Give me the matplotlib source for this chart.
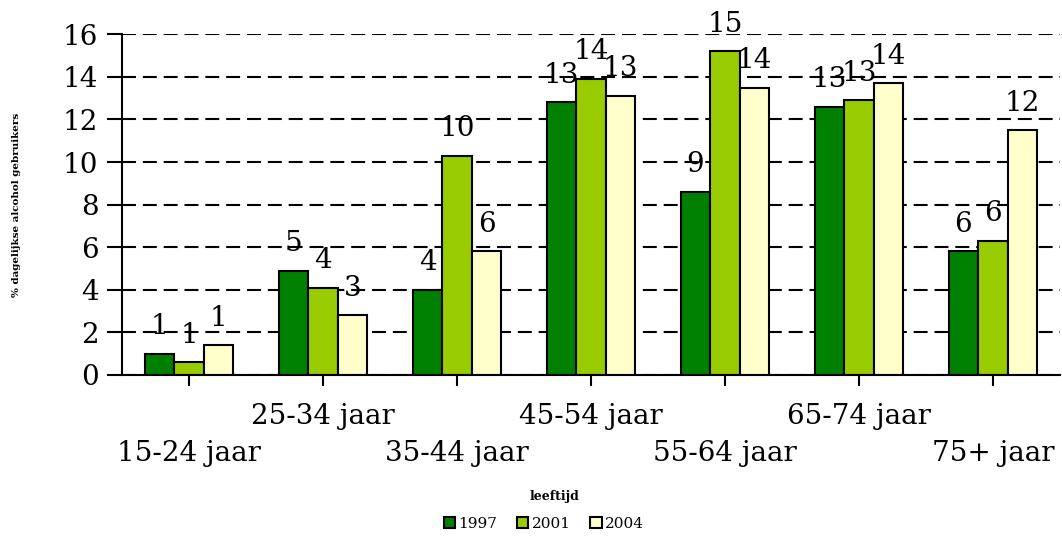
import matplotlib
matplotlib.use('Agg')
import matplotlib.pyplot as plt
import numpy as np

# data
categories = ['15-24 jaar', '25-34 jaar', '35-44 jaar', '45-54 jaar',
              '55-64 jaar', '65-74 jaar', '75+ jaar']
years = ['1997', '2001', '2004']
v1997 = [1.0, 4.9, 4.0, 12.8, 8.6, 12.6, 5.8]
v2001 = [0.6, 4.1, 10.3, 13.9, 15.2, 12.9, 6.3]
v2004 = [1.4, 2.8, 5.8, 13.1, 13.5, 13.7, 11.5]
yticks = [0, 2, 4, 6, 8, 10, 12, 14, 16]

colors = ['#008000', '#99CC00', '#FFFFCC']

plt.rcParams['font.family'] = ['DejaVu Serif']

fig = plt.figure(figsize=(10.62, 5.36), dpi=100)
ax = fig.add_axes([0.1149, 0.3004, 0.8831, 0.6356])
ax.set_clip_on(False)

x = np.arange(len(categories))
w = 0.22
handles = []
for i, (vals, col, yr) in enumerate(zip([v1997, v2001, v2004], colors, years)):
    bars = ax.bar(x + (i - 1) * w, vals, w, color=col, edgecolor='black',
                  linewidth=1.5, label=yr, zorder=3)
    handles.append(bars)
    for xi, v in zip(x + (i - 1) * w, vals):
        ax.annotate('%d' % round(v), (xi, v), xytext=(0, 19.5),
                    textcoords='offset points', ha='center', va='center',
                    fontsize=20, zorder=4)

ax.set_xlim(-0.5, len(categories) - 0.5)
ax.set_ylim(0, 16)
ax.set_yticks(yticks)
ax.tick_params(axis='y', labelsize=20, length=11, width=1.5, pad=6, direction='out')
ax.set_xticks(x)
ax.set_xticklabels(categories, fontsize=20)
ax.tick_params(axis='x', length=8, width=1.5, direction='out')
for k, t in enumerate(ax.xaxis.get_major_ticks()):
    t.set_pad(12 if k % 2 else 39)

ax.grid(axis='y', color='black', linewidth=1.5, linestyle=(0, (6.7, 3.3)), zorder=1)
ax.set_axisbelow(True)
for s in ['top', 'right']:
    ax.spines[s].set_visible(False)
for s in ['left', 'bottom']:
    ax.spines[s].set_linewidth(1.5)
    ax.spines[s].set_zorder(5)

fig.text(0.016, 0.618, '% dagelijkse alcohol gebruikers', rotation=90,
         ha='center', va='center', fontsize=7.5, fontweight='bold')
fig.text(0.5217, 0.073, 'leeftijd', ha='center', va='center',
         fontsize=9, fontweight='bold')

fig.legend(handles=handles, labels=years, loc='center', bbox_to_anchor=(0.512, 0.022),
           ncol=3, frameon=False, fontsize=11, handlelength=0.75, handleheight=0.75,
           handletextpad=0.2, columnspacing=1.3, borderpad=0)

fig.savefig('out.png', dpi=100)
